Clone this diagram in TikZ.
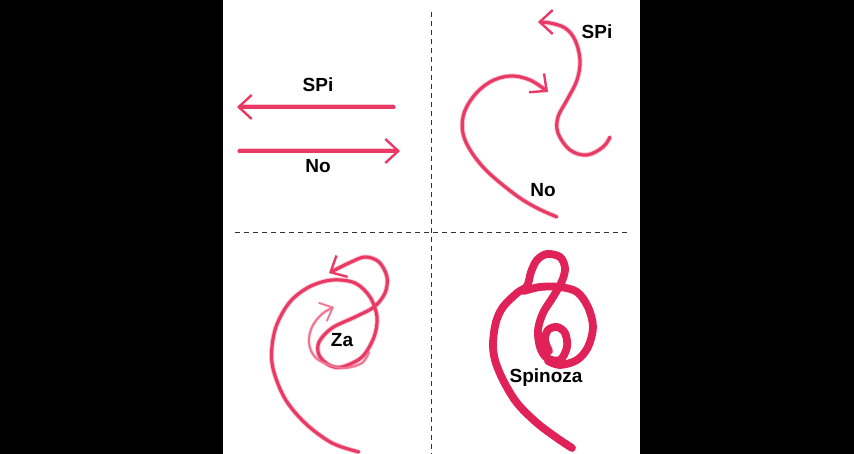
\documentclass[tikz,border=0pt]{standalone}
\usepackage{fontspec}
\setmainfont{Liberation Sans}
\usetikzlibrary{arrows.meta}

\definecolor{inkpink}{RGB}{232,58,100}
\definecolor{penpink}{RGB}{224,34,88}

\tikzset{
  brush/.style={inkpink, line width=3.2pt, line cap=round, line join=round,
    preaction={draw, inkpink, line width=5pt, opacity=.3}},
  thinbrush/.style={inkpink!70, line width=2pt, line cap=round, line join=round,
    preaction={draw, inkpink, line width=3.4pt, opacity=.2}},
  barb/.style={-{Straight Barb[length=13pt,width=24pt,line width=2.3pt]}},
  pen/.style={penpink, line width=7.8pt, line cap=round, line join=round},
  word/.style={font=\bfseries\fontsize{19}{19}\selectfont, text=black, inner sep=0pt},
  divider/.style={black!80, line width=0.9pt, dash pattern=on 5pt off 4pt}
}

\begin{document}
\begin{tikzpicture}[x=1pt, y=-1pt]
 \useasboundingbox (0,0) rectangle (854,454);
 \fill[black] (0,0) rectangle (223,454);
 \fill[black] (640,0) rectangle (854,454);

 % quadrant dividers
 \draw[divider] (431,12) -- (431,454);
 \draw[divider] (235,232) -- (627,232);

 % two straight arrows
 \coordinate (spiStart) at (394,107);
 \coordinate (spiEnd) at (237,107);
 \coordinate (noStart) at (239,151);
 \coordinate (noEnd) at (400,151);
 \draw[brush, barb] (spiStart) -- (spiEnd);
 \draw[brush, barb] (noStart) -- (noEnd);
 \node[word] (spiA) at (318,85) {SPi};
 \node[word] (noA) at (318,166) {No};

 % curved arrows
 \draw[brush, barb] plot[smooth, tension=0.6] coordinates {
   (610,137) (603,147) (587,155) (570,150) (558,133) (558,117) (567,100)
   (577,80) (580,60) (575,40) (565,28) (550,23) (538,22)};
 \draw[brush, barb] plot[smooth, tension=0.6] coordinates {
   (557,217) (535,207) (513,193) (483,167) (465,140) (463,117) (473,97)
   (490,82) (510,76) (530,80) (548,92)};
 \node[word] (spiB) at (597,32) {SPi};
 \node[word] (noB) at (543,190) {No};

 % knotted arrow
 \draw[brush, barb] plot[smooth, tension=0.55] coordinates {
   (359,452) (332,443) (305,423) (284,397) (272,363) (275,330) (289,303)
   (309,287) (332,280) (355,283) (370,297) (377,317) (374,337) (362,357)
   (342,367) (329,365) (319,355) (319,342) (332,328) (355,317) (374,307)
   (385,293) (387,277) (379,262) (365,257) (349,263) (329,273)};
 \draw[thinbrush, -{Straight Barb[length=11pt,width=20pt,line width=1.8pt]}]
   plot[smooth, tension=0.6] coordinates {
   (369,352) (362,363) (345,368) (329,365) (315,357) (309,343) (312,327)
   (322,314) (334,307)};
 \node[word] (za) at (342,340) {Za};

 % the pen signature
 \draw[pen] plot[smooth, tension=0.55] coordinates {
   (572,448) (557,438) (537,423) (517,403) (503,380) (495,360) (493,343)
   (496,322) (503,307) (517,293) (527,286) (531,272) (537,260) (547,254)
   (560,257) (565,268) (562,281) (553,297) (543,313) (538,330) (540,347)
   (547,358) (560,360) (567,347) (565,333) (557,327) (548,330) (545,340)
   (549,351)};
 \draw[pen] plot[smooth, tension=0.55] coordinates {
   (524,291) (540,287) (560,287) (577,292) (588,307) (593,327) (588,347)
   (577,360) (560,365) (548,361)};
 \node[word] (spinoza) at (546,378) {Spinoza};
\end{tikzpicture}
\end{document}
